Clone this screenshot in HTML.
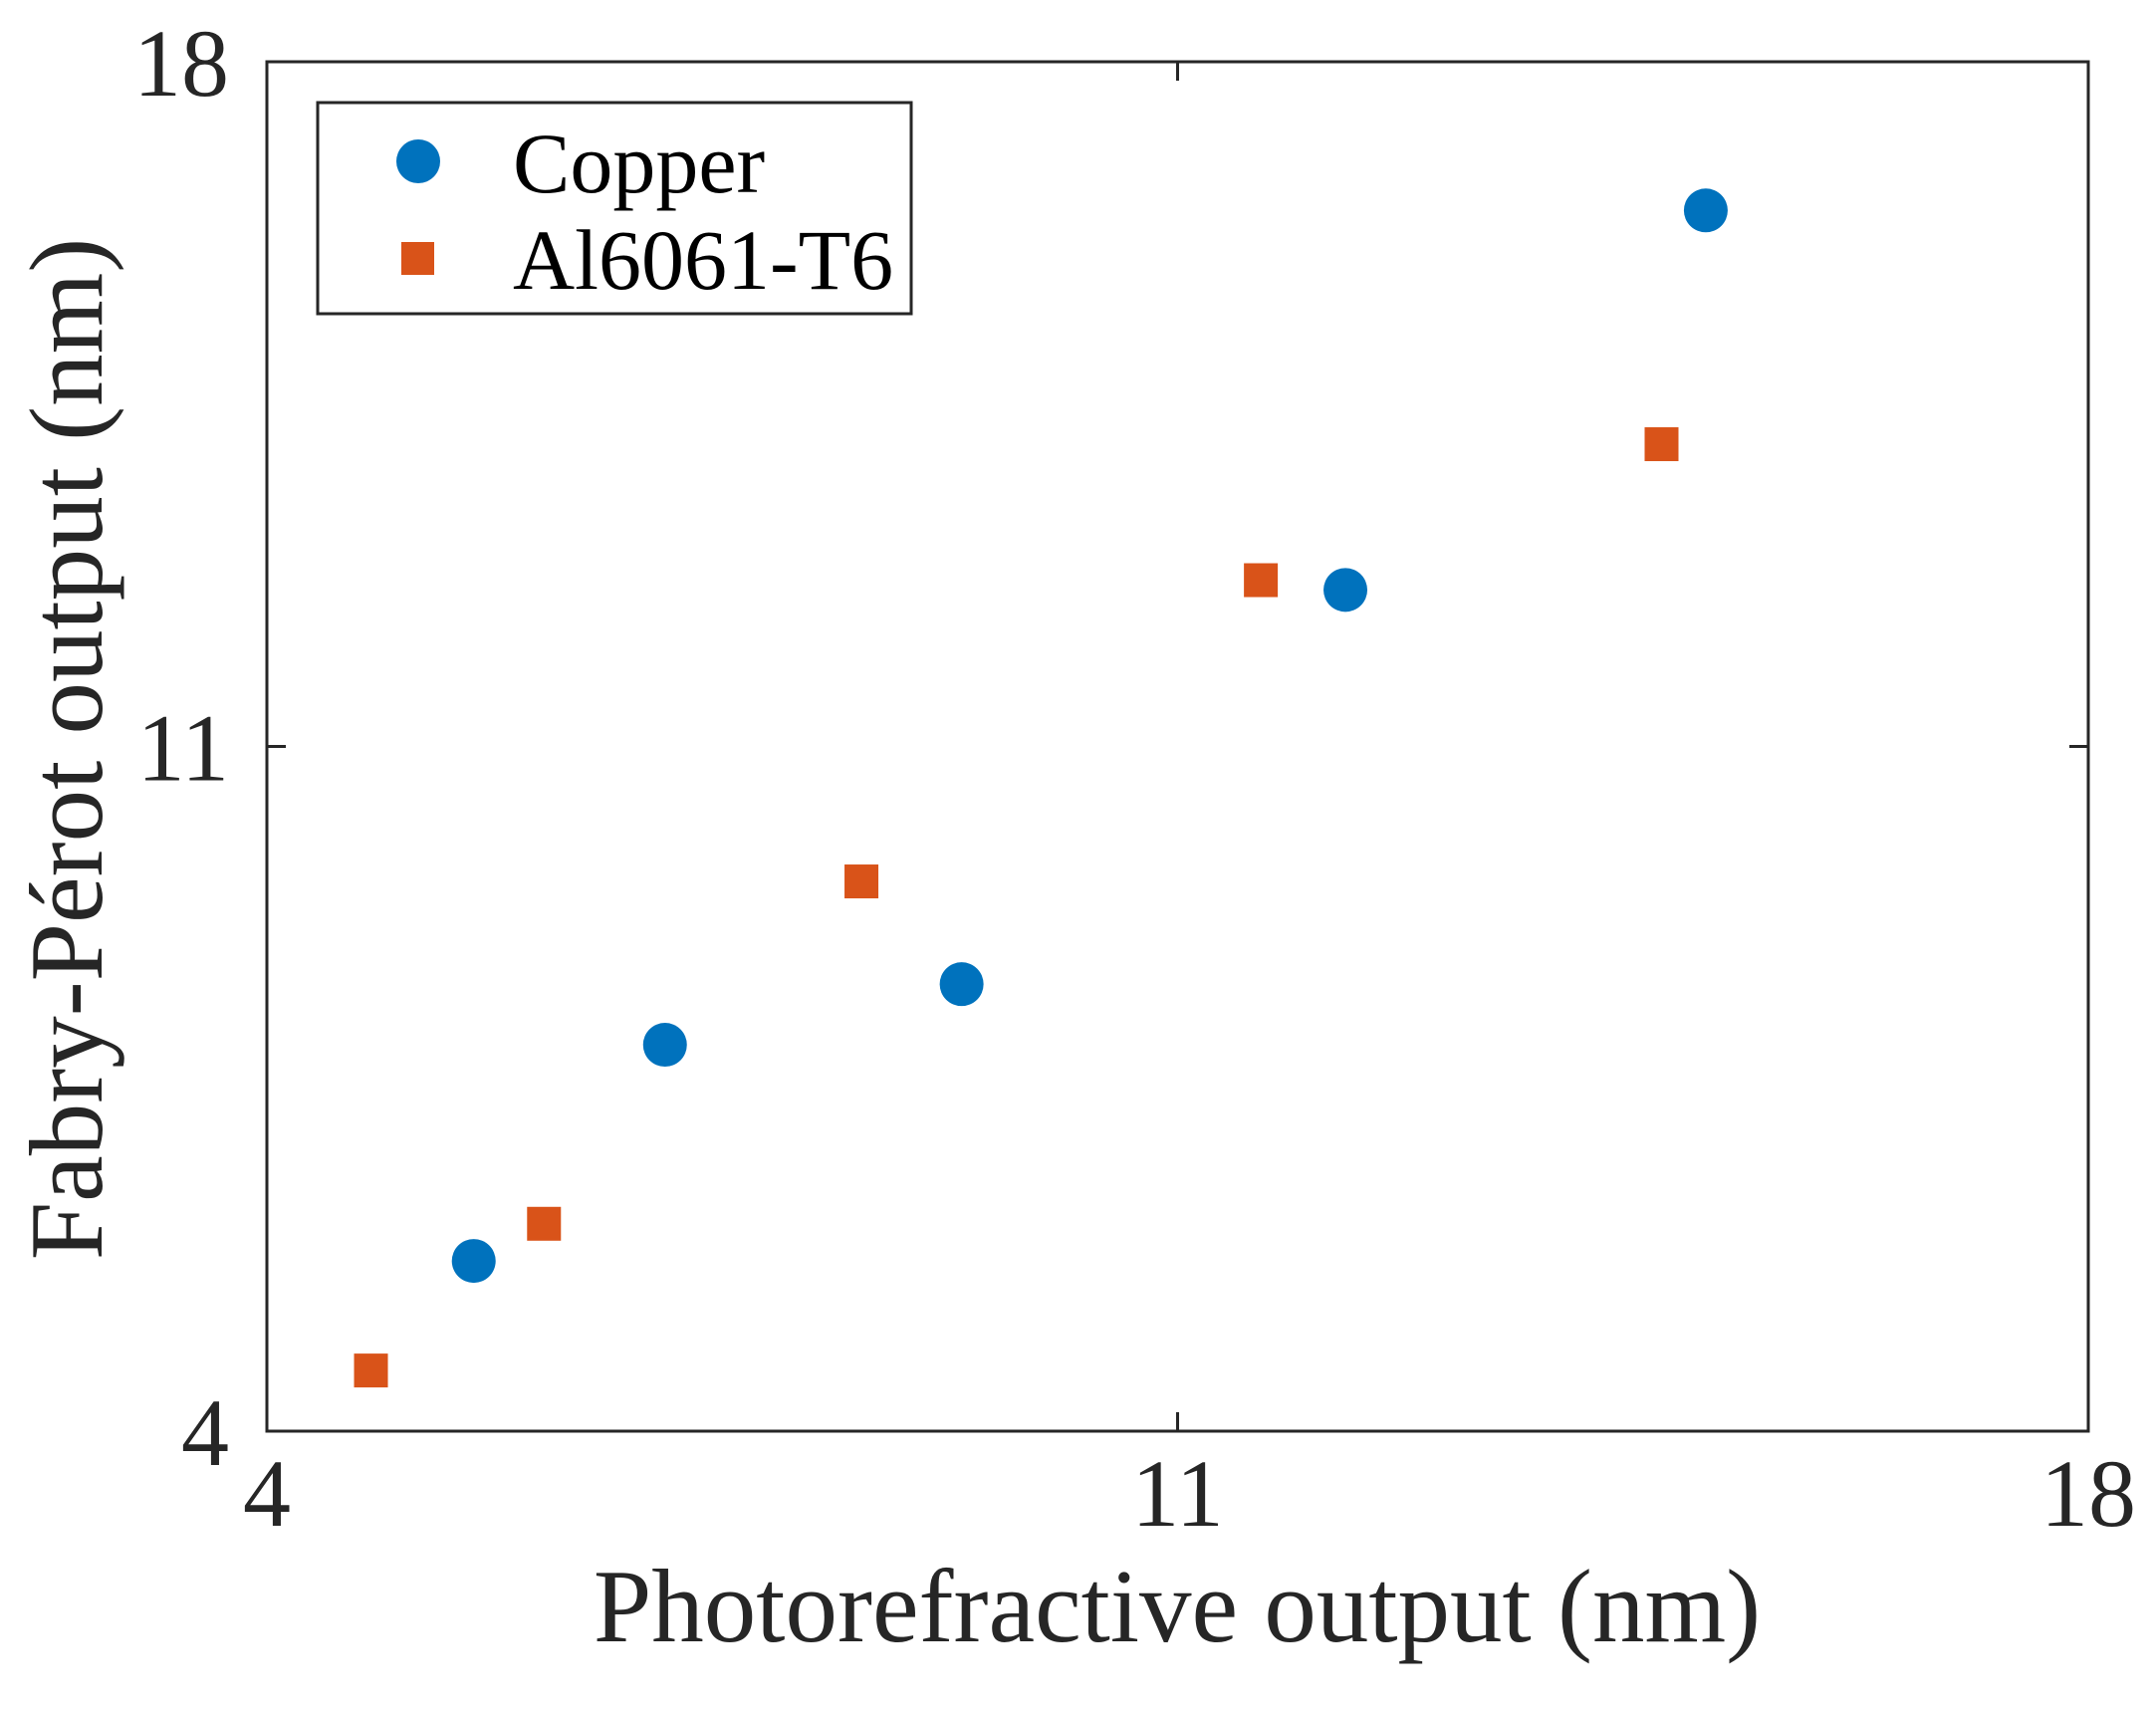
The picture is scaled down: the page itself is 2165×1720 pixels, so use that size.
<!DOCTYPE html>
<html><head><meta charset="utf-8"><style>
body{margin:0;background:#fff}
svg{display:block;font-family:"Liberation Serif",serif}
</style></head><body>
<svg id="chart" width="2165" height="1720" viewBox="0 0 2165 1720">
<rect width="2165" height="1720" fill="#fff"/>
<g id="axes"></g>
<g id="marks"></g>
<g>
<rect x="319" y="103" width="596" height="212" fill="#fff" stroke="#262626" stroke-width="3"/>
<circle cx="420" cy="162" r="22" fill="#0072bd"/>
<rect x="403" y="243" width="33" height="33" fill="#d95319"/>
<text x="515" y="193" font-size="86" fill="#000">Copper</text>
<text x="515" y="290" font-size="86" fill="#000">Al6061-T6</text>
</g>
<text x="1182" y="1648" font-size="105" text-anchor="middle" fill="#262626">Photorefractive output (nm)</text>
<text transform="translate(102,752) rotate(-90)" font-size="105" text-anchor="middle" fill="#262626">Fabry-Pérot output (nm)</text>
</svg>
<script>
const xTicks=[4,11,18];
const yTicks=[4,11,18];
const copperX=[5.59,7.06,9.34,12.29,15.06];
const copperY=[5.74,7.95,8.57,12.60,16.48];
const alX=[4.80,6.13,8.57,11.64,14.72];
const alY=[4.62,6.12,9.62,12.70,14.09];
const L=268,R=2097,T=62,B=1437;
const xs=v=>L+(v-4)/14*(R-L);
const ys=v=>B-(v-4)/14*(B-T);
const NS='http://www.w3.org/2000/svg';
function mk(tag,attrs,parent){const e=document.createElementNS(NS,tag);for(const k in attrs)e.setAttribute(k,attrs[k]);parent.appendChild(e);return e;}
const ax=document.getElementById('axes');
let fr=mk('rect',{x:L,y:T,width:R-L,height:B-T,fill:'none',stroke:'#262626','stroke-width':3},ax);


xTicks.forEach(t=>{
 const x=xs(t);
 let l=mk('path',{d:`M${x},${B}V${B-19}M${x},${T}V${T+19}`,stroke:'#262626','stroke-width':3},ax);
 
 
 let tx=mk('text',{x:x,y:1532,'font-size':96,'text-anchor':'middle',fill:'#262626'},ax);
 tx.textContent=t;
 
 
});
yTicks.forEach(t=>{
 const y=ys(t);
 let l=mk('path',{d:`M${L},${y}H${L+19}M${R},${y}H${R-19}`,stroke:'#262626','stroke-width':3},ax);
 
 
 let tx=mk('text',{x:230,y:y+34,'font-size':96,'text-anchor':'end',fill:'#262626'},ax);
 tx.textContent=t;
 
 
});
const mg=document.getElementById('marks');
copperX.forEach((v,i)=>{
 let c=mk('circle',{cx:xs(v),cy:ys(copperY[i]),r:22,fill:'#0072bd'},mg);
 
 
});
alX.forEach((v,i)=>{
 let r=mk('rect',{x:xs(v)-17,y:ys(alY[i])-17,width:34,height:34,fill:'#d95319'},mg);
 
 
});
</script>
</body></html>
